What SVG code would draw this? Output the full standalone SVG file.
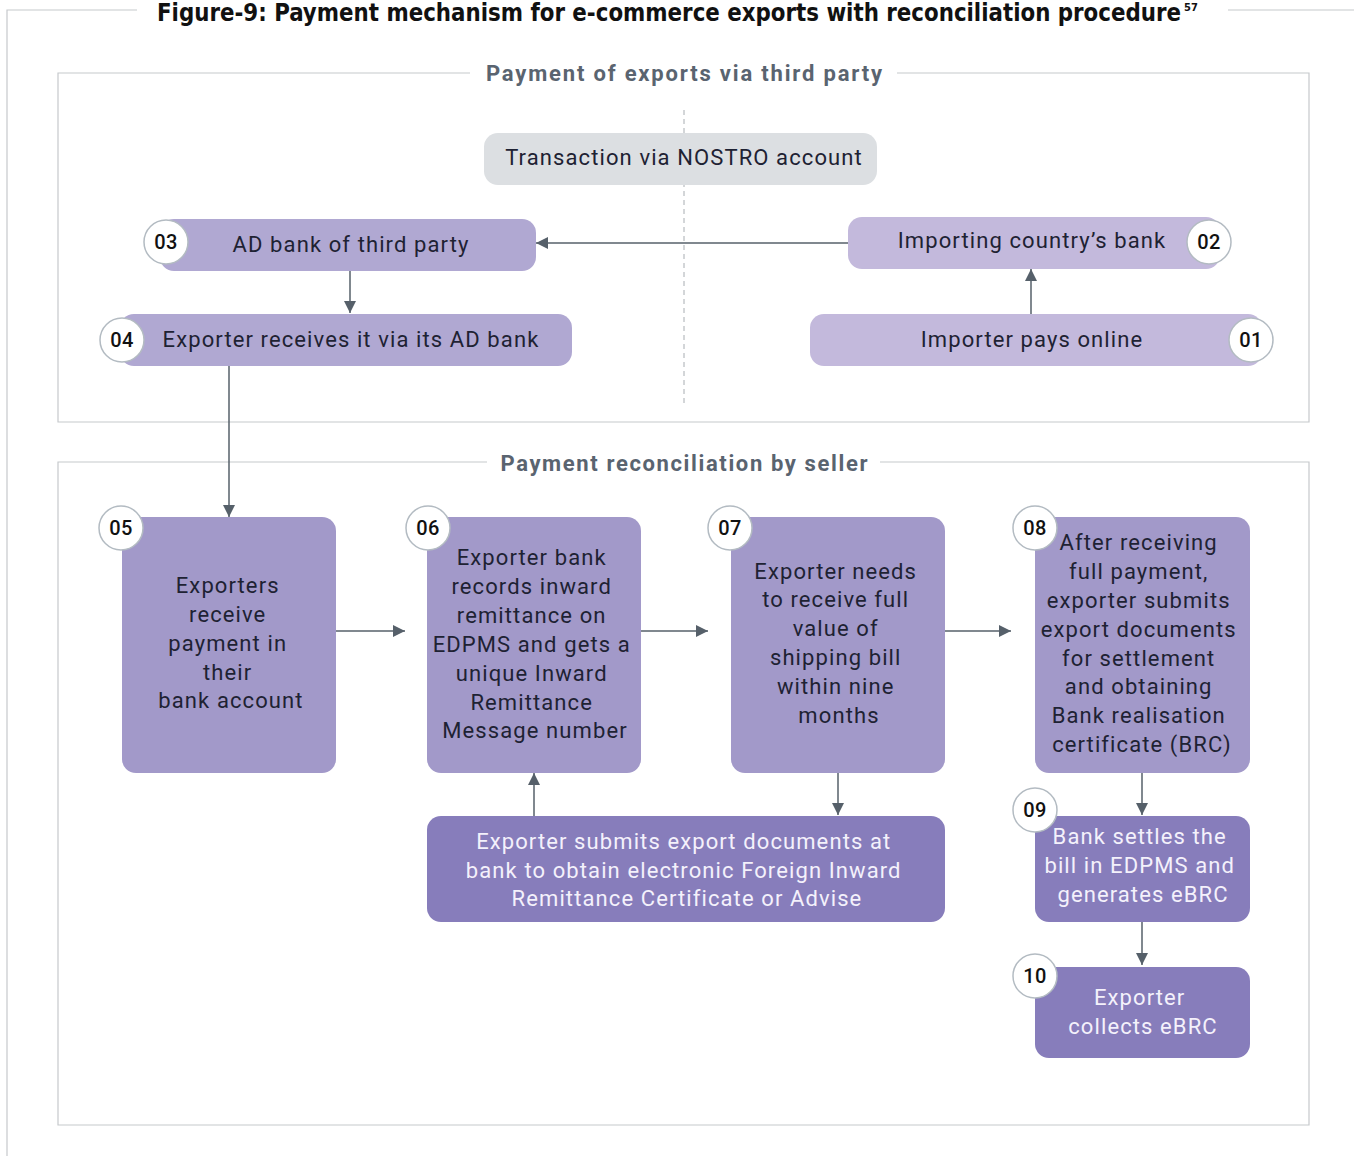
<svg xmlns="http://www.w3.org/2000/svg" width="1354" height="1156" viewBox="0 0 1354 1156">
  <style>
    .frame { fill: none; stroke: #c6c9cc; stroke-width: 1.2; }
    .title { font-family: "DejaVu Sans Condensed", "DejaVu Sans", sans-serif; font-weight: bold; font-size: 24px; fill: #111; }
    .sup { font-size: 11px; }
    .sec { font-family: Roboto, "Noto Sans", sans-serif; font-weight: bold; font-size: 22px; fill: #5a6470; text-anchor: middle; }
    .lbl { font-family: Roboto, "Noto Sans", sans-serif; font-size: 22px; fill: #1e2233; text-anchor: middle; letter-spacing: 1.1px; }
    .lbl-w { font-family: Roboto, "Noto Sans", sans-serif; font-size: 22px; fill: #f4f1fb; text-anchor: middle; letter-spacing: 1.1px; }
    .num { font-family: Roboto, "Noto Sans", sans-serif; font-size: 20px; font-weight: 500; fill: #111; text-anchor: middle; letter-spacing: 0.5px; }
    .badge { fill: #ffffff; stroke: #b3bbc2; stroke-width: 1.5; }
    .gray { fill: #dcdfe2; }
    .lav1 { fill: #b0a8d2; }
    .lav2 { fill: #c3b9dc; }
    .mid { fill: #a299c9; }
    .dark { fill: #877dbb; }
    .conn { stroke: #56606a; stroke-width: 1.5; fill: none; }
  </style>
  <defs>
    <marker id="arrow" viewBox="0 0 10 10" refX="10" refY="5" markerWidth="12" markerHeight="12" markerUnits="userSpaceOnUse" orient="auto">
      <path d="M0,0 L10,5 L0,10 z" fill="#56606a"/>
    </marker>
  </defs>

  <!-- outer figure frame and title -->
  <g id="figure-frame">
    <path class="frame" d="M137,10 H7 V1156"/>
    <path class="frame" d="M1228,10 H1354"/>
    <text class="title" x="157" y="21"><tspan textLength="1024" lengthAdjust="spacingAndGlyphs">Figure-9: Payment mechanism for e-commerce exports with reconciliation procedure</tspan><tspan class="sup" dx="3" dy="-10">57</tspan></text>
  </g>

  <!-- section: payment of exports via third party -->
  <g id="section-third-party">
    <path class="frame" d="M470,73 H58 V422 H1309 V73 H897"/>
    <text class="sec" x="684" y="81" textLength="396" lengthAdjust="spacing">Payment of exports via third party</text>
    <line x1="684" y1="110" x2="684" y2="405" stroke="#a8adb2" stroke-width="1" stroke-dasharray="5,4"/>
  </g>

  <!-- section: payment reconciliation by seller -->
  <g id="section-reconciliation">
    <path class="frame" d="M487,462 H58 V1125 H1309 V462 H880"/>
    <text class="sec" x="684" y="471" textLength="367" lengthAdjust="spacing">Payment reconciliation by seller</text>
  </g>

  <!-- connectors -->
  <g id="connectors">
    <line class="conn" x1="848" y1="243" x2="536" y2="243" marker-end="url(#arrow)"/>
    <line class="conn" x1="350" y1="271" x2="350" y2="313" marker-end="url(#arrow)"/>
    <line class="conn" x1="1031" y1="314" x2="1031" y2="269" marker-end="url(#arrow)"/>
    <line class="conn" x1="229" y1="366" x2="229" y2="517" marker-end="url(#arrow)"/>
    <line class="conn" x1="336" y1="631" x2="405" y2="631" marker-end="url(#arrow)"/>
    <line class="conn" x1="640" y1="631" x2="708" y2="631" marker-end="url(#arrow)"/>
    <line class="conn" x1="944" y1="631" x2="1011" y2="631" marker-end="url(#arrow)"/>
    <line class="conn" x1="838" y1="772" x2="838" y2="815" marker-end="url(#arrow)"/>
    <line class="conn" x1="534" y1="816" x2="534" y2="773" marker-end="url(#arrow)"/>
    <line class="conn" x1="1142" y1="772" x2="1142" y2="815" marker-end="url(#arrow)"/>
    <line class="conn" x1="1142" y1="921" x2="1142" y2="965" marker-end="url(#arrow)"/>
  </g>

  <!-- nodes -->
  <g id="node-nostro">
    <rect class="gray" x="484" y="133" width="393" height="52" rx="14"/>
    <text class="lbl" x="684" y="165">Transaction via NOSTRO account</text>
  </g>

  <g id="node-01">
    <rect class="lav2" x="810" y="314" width="452" height="52" rx="14"/>
    <text class="lbl" x="1032" y="347">Importer pays online</text>
    <circle class="badge" cx="1251" cy="340" r="22"/>
    <text class="num" x="1251" y="347">01</text>
  </g>

  <g id="node-02">
    <rect class="lav2" x="848" y="217" width="372" height="52" rx="14"/>
    <text class="lbl" x="1032" y="248">Importing country’s bank</text>
    <circle class="badge" cx="1209" cy="242" r="22"/>
    <text class="num" x="1209" y="249">02</text>
  </g>

  <g id="node-03">
    <rect class="lav1" x="160" y="219" width="376" height="52" rx="14"/>
    <text class="lbl" x="351" y="252">AD bank of third party</text>
    <circle class="badge" cx="166" cy="242" r="22"/>
    <text class="num" x="166" y="249">03</text>
  </g>

  <g id="node-04">
    <rect class="lav1" x="120" y="314" width="452" height="52" rx="14"/>
    <text class="lbl" x="351" y="347">Exporter receives it via its AD bank</text>
    <circle class="badge" cx="122" cy="340" r="22"/>
    <text class="num" x="122" y="347">04</text>
  </g>

  <g id="node-05">
    <rect class="mid" x="122" y="517" width="214" height="256" rx="14"/>
    <text class="lbl" x="231">
      <tspan x="231" y="593">Exporters</tspan>
      <tspan x="231" y="622">receive</tspan>
      <tspan x="231" y="651">payment in</tspan>
      <tspan x="231" y="680">their</tspan>
      <tspan x="231" y="708">bank account</tspan>
    </text>
    <circle class="badge" cx="121" cy="528" r="22"/>
    <text class="num" x="121" y="535">05</text>
  </g>

  <g id="node-06">
    <rect class="mid" x="427" y="517" width="214" height="256" rx="14"/>
    <text class="lbl" x="535">
      <tspan x="535" y="565">Exporter bank</tspan>
      <tspan x="535" y="594">records inward</tspan>
      <tspan x="535" y="623">remittance on</tspan>
      <tspan x="535" y="652">EDPMS and gets a</tspan>
      <tspan x="535" y="681">unique Inward</tspan>
      <tspan x="535" y="710">Remittance</tspan>
      <tspan x="535" y="738">Message number</tspan>
    </text>
    <circle class="badge" cx="428" cy="528" r="22"/>
    <text class="num" x="428" y="535">06</text>
  </g>

  <g id="node-07">
    <rect class="mid" x="731" y="517" width="214" height="256" rx="14"/>
    <text class="lbl" x="839">
      <tspan x="839" y="579">Exporter needs</tspan>
      <tspan x="839" y="607">to receive full</tspan>
      <tspan x="839" y="636">value of</tspan>
      <tspan x="839" y="665">shipping bill</tspan>
      <tspan x="839" y="694">within nine</tspan>
      <tspan x="839" y="723">months</tspan>
    </text>
    <circle class="badge" cx="730" cy="528" r="22"/>
    <text class="num" x="730" y="535">07</text>
  </g>

  <g id="node-08">
    <rect class="mid" x="1035" y="517" width="215" height="256" rx="14"/>
    <text class="lbl" x="1142">
      <tspan x="1142" y="550">After receiving</tspan>
      <tspan x="1142" y="579">full payment,</tspan>
      <tspan x="1142" y="608">exporter submits</tspan>
      <tspan x="1142" y="637">export documents</tspan>
      <tspan x="1142" y="666">for settlement</tspan>
      <tspan x="1142" y="694">and obtaining</tspan>
      <tspan x="1142" y="723">Bank realisation</tspan>
      <tspan x="1142" y="752">certificate (BRC)</tspan>
    </text>
    <circle class="badge" cx="1035" cy="528" r="22"/>
    <text class="num" x="1035" y="535">08</text>
  </g>

  <g id="node-firc">
    <rect class="dark" x="427" y="816" width="518" height="106" rx="14"/>
    <text class="lbl-w" x="687">
      <tspan x="687" y="849">Exporter submits export documents at</tspan>
      <tspan x="687" y="878">bank to obtain electronic Foreign Inward</tspan>
      <tspan x="687" y="906">Remittance Certificate or Advise</tspan>
    </text>
  </g>

  <g id="node-09">
    <rect class="dark" x="1035" y="816" width="215" height="106" rx="14"/>
    <text class="lbl-w" x="1143">
      <tspan x="1143" y="844">Bank settles the</tspan>
      <tspan x="1143" y="873">bill in EDPMS and</tspan>
      <tspan x="1143" y="902">generates eBRC</tspan>
    </text>
    <circle class="badge" cx="1035" cy="810" r="22"/>
    <text class="num" x="1035" y="817">09</text>
  </g>

  <g id="node-10">
    <rect class="dark" x="1035" y="967" width="215" height="91" rx="14"/>
    <text class="lbl-w" x="1143">
      <tspan x="1143" y="1005">Exporter</tspan>
      <tspan x="1143" y="1034">collects eBRC</tspan>
    </text>
    <circle class="badge" cx="1035" cy="976" r="22"/>
    <text class="num" x="1035" y="983">10</text>
  </g>
</svg>
